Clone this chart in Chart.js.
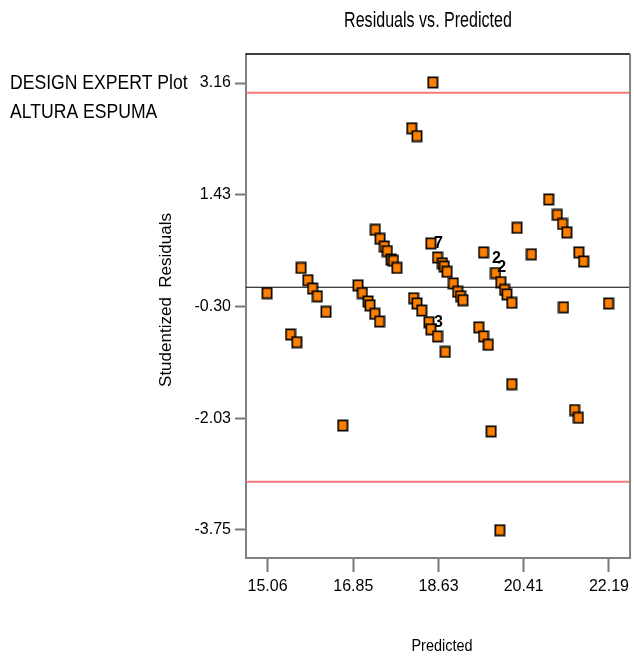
<!DOCTYPE html>
<html>
<head>
<meta charset="utf-8">
<script src="https://cdn.jsdelivr.net/npm/chart.js@4.4.1/dist/chart.umd.min.js"></script>
<style>
  html, body { margin: 0; padding: 0; background: #fff; }
  #wrap { width: 634px; height: 657px; position: relative; }
</style>
</head>
<body>
<div id="wrap"><canvas id="resChart" width="634" height="657"></canvas></div>
<script>
// valores (Predicted / Studentized Residuals)
const predicted = [
  15.05, 15.76, 15.90, 16.00, 16.10, 16.28, 15.54, 15.67, 16.63, 16.95,
  17.04, 17.16, 17.20, 17.30, 17.40, 17.31, 17.41, 17.50, 17.56, 17.64,
  17.69, 17.76, 18.07, 18.18, 18.51, 18.11, 18.18, 18.28, 18.43, 18.47,
  18.61, 18.77, 18.47, 18.61, 18.71, 18.75, 18.81, 18.94, 19.03, 19.09,
  19.14, 19.47, 19.57, 19.67, 19.57, 19.82, 19.93, 20.01, 20.06, 20.16,
  20.27, 20.57, 20.93, 21.11, 21.22, 21.31, 21.56, 21.66, 21.24, 22.18,
  20.16, 21.47, 21.55, 19.73, 19.91
];
const residuals = [
  -0.09, 0.30, 0.11, -0.02, -0.14, -0.38, -0.73, -0.85, -2.14, 0.03,
  -0.09, -0.22, -0.28, -0.41, -0.53, 0.89, 0.75, 0.63, 0.56, 0.43,
  0.41, 0.30, 2.46, 2.34, 3.17, -0.17, -0.25, -0.36, -0.54, -0.65,
  -0.76, -1.00, 0.68, 0.46, 0.37, 0.32, 0.24, 0.06, -0.07, -0.14,
  -0.20, -0.62, -0.76, -0.89, 0.54, 0.22, 0.08, -0.04, -0.11, -0.24,
  0.92, 0.51, 1.36, 1.12, 0.98, 0.85, 0.54, 0.40, -0.31, -0.25,
  -1.50, -1.90, -2.02, -2.23, -3.76
];
// puntos repetidos (numero de coincidencias)
const repeatIndex = [33, 45, 46, 30];
const repeatText = ["7", "2", "2", "3"];

const xTicks = [15.06, 16.85, 18.63, 20.41, 22.19];
const yTicks = [-3.75, -2.03, -0.30, 1.43, 3.16];
const xRange = [14.61, 22.63];
const yRange = [-4.19, 3.61];
const limitValue = 3.01;

const normal = "'Liberation Sans', Arial, sans-serif";

function makeMarker() {
  const c = document.createElement("canvas");
  c.width = 12;
  c.height = 13;
  const g = c.getContext("2d");
  g.fillStyle = "rgba(0,0,0,0.28)";
  g.fillRect(0, 0, 12, 13);
  g.fillStyle = "#ff8000";
  g.fillRect(1.5, 1.5, 9, 10);
  g.strokeStyle = "#000";
  g.lineWidth = 1.5;
  g.strokeRect(1.5, 1.5, 9, 10);
  return c;
}

// texto estrechado (la fuente original es condensada)
function narrowText(ctx, text, x, y, size, sx, align) {
  ctx.save();
  ctx.translate(x, y);
  ctx.scale(sx, 1);
  ctx.font = size + "px " + normal;
  ctx.textAlign = align;
  ctx.fillText(text, 0, 0);
  ctx.restore();
}

const points = predicted.map((x, i) => ({ x: x, y: residuals[i] }));

const decorPlugin = {
  id: "decor",
  afterDatasetsDraw(chart) {
    const ctx = chart.ctx;
    const meta = chart.getDatasetMeta(3);
    ctx.save();
    ctx.fillStyle = "#000";
    ctx.font = "bold 16px " + normal;
    ctx.textAlign = "center";
    ctx.textBaseline = "middle";
    repeatIndex.forEach((idx, k) => {
      const el = meta.data[idx];
      ctx.fillText(repeatText[k], el.x + 1, el.y - 14);
    });
    ctx.restore();
  },
  afterDraw(chart) {
    const { ctx, chartArea: a } = chart;
    ctx.save();
    // marco superior y derecho
    ctx.strokeStyle = "#000";
    ctx.lineWidth = 1.5;
    ctx.beginPath();
    ctx.moveTo(a.left, a.top);
    ctx.lineTo(a.right, a.top);
    ctx.stroke();
    ctx.strokeStyle = "#808080";
    ctx.lineWidth = 2;
    ctx.beginPath();
    ctx.moveTo(a.right, a.top);
    ctx.lineTo(a.right, a.bottom);
    ctx.stroke();

    // textos
    ctx.fillStyle = "#000";
    ctx.textBaseline = "alphabetic";
    narrowText(ctx, "Residuals vs. Predicted", 428, 27, 22, 0.73, "center");
    narrowText(ctx, "DESIGN EXPERT Plot", 10, 89, 20, 0.88, "left");
    narrowText(ctx, "ALTURA ESPUMA", 10, 118, 20, 0.88, "left");
    narrowText(ctx, "Predicted", 442, 651, 17, 0.85, "center");

    ctx.translate(171, 300);
    ctx.rotate(-Math.PI / 2);
    ctx.font = "17px " + normal;
    ctx.textAlign = "center";
    ctx.fillText("Studentized  Residuals", 0, 0);
    ctx.restore();
  }
};

new Chart(document.getElementById("resChart"), {
  type: "scatter",
  data: {
    datasets: [
      {
        type: "line",
        data: [{ x: xRange[0], y: limitValue }, { x: xRange[1], y: limitValue }],
        borderColor: "#f27b7b",
        borderWidth: 2,
        pointRadius: 0,
        order: 2,
      },
      {
        type: "line",
        data: [{ x: xRange[0], y: -limitValue }, { x: xRange[1], y: -limitValue }],
        borderColor: "#f27b7b",
        borderWidth: 2,
        pointRadius: 0,
        order: 2,
      },
      {
        type: "line",
        data: [{ x: xRange[0], y: 0 }, { x: xRange[1], y: 0 }],
        borderColor: "#000",
        borderWidth: 1.2,
        pointRadius: 0,
        order: 2,
      },
      {
        data: points,
        pointStyle: makeMarker(),
        pointRadius: 6,
        order: 0,
      },
    ],
  },
  options: {
    responsive: false,
    animation: false,
    devicePixelRatio: 1,
    layout: { autoPadding: false, padding: { left: 0, top: 54, right: -3, bottom: 0 } },
    plugins: {
      legend: { display: false },
      tooltip: { enabled: false },
    },
    scales: {
      x: {
        type: "linear",
        min: xRange[0],
        max: xRange[1],
        afterBuildTicks: (s) => { s.ticks = xTicks.map((v) => ({ value: v })); },
        afterFit: (s) => { s.height = 99; },
        ticks: {
          callback: (v) => v.toFixed(2),
          font: { family: normal, size: 16 },
          color: "#000",
          padding: 5,
          maxRotation: 0,
          autoSkip: false,
        },
        grid: { drawOnChartArea: false, tickLength: 14, tickColor: "#777", tickWidth: 2 },
        border: { color: "#808080", width: 2 },
      },
      y: {
        type: "linear",
        min: yRange[0],
        max: yRange[1],
        afterBuildTicks: (s) => { s.ticks = yTicks.map((v) => ({ value: v })); },
        afterFit: (s) => { s.width = 246; },
        ticks: {
          callback: (v) => v.toFixed(2),
          font: { family: normal, size: 16 },
          color: "#000",
          padding: 4,
          autoSkip: false,
        },
        grid: { drawOnChartArea: false, tickLength: 11, tickColor: "#777", tickWidth: 2 },
        border: { color: "#808080", width: 2 },
      },
    },
  },
  plugins: [decorPlugin],
});
</script>
</body>
</html>
